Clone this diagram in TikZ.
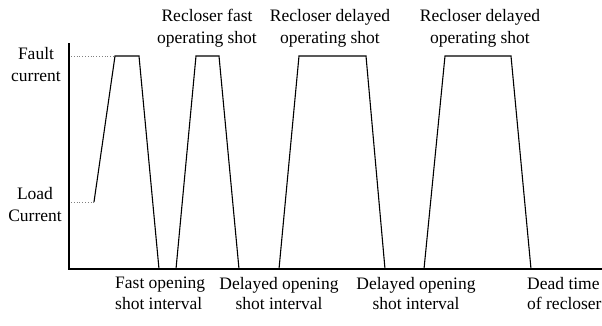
\documentclass[tikz,border=0pt]{standalone}
\usepackage{fontspec}
\setmainfont{Liberation Serif}
\begin{document}
\begin{tikzpicture}[x=1pt,y=-1pt,
  axis/.style={line width=1.8pt},
  wave/.style={line width=1.1pt},
  guide/.style={line width=0.8pt, dotted, gray},
  lbl/.style={inner sep=0pt, anchor=north, font=\fontsize{17.5}{22}\selectfont},
  lblb/.style={inner sep=0pt, anchor=north, font=\fontsize{17.5}{20.5}\selectfont}]
\useasboundingbox (0,0) rectangle (602,325);
% axes
\coordinate (ytop) at (69,43);
\coordinate (origin) at (69,269);
\coordinate (xend) at (602,269);
\draw[axis] (ytop) -- (origin) -- (xend);
% levels
\coordinate (lstart) at (71,202);
\coordinate (fstart) at (71,56);
% pulse 1
\coordinate (a0) at (94,202);
\coordinate (a1) at (115,56);
\coordinate (a2) at (139,56);
\coordinate (a3) at (159,269);
\draw[guide] (lstart) -- (a0);
\draw[guide] (fstart) -- (a1);
\draw[wave] (a0) -- (a1) -- (a2) -- (a3);
% pulse 2
\coordinate (b0) at (176,269);
\coordinate (b1) at (196,56);
\coordinate (b2) at (219,56);
\coordinate (b3) at (239,269);
\draw[wave] (b0) -- (b1) -- (b2) -- (b3);
% pulse 3
\coordinate (c0) at (279,269);
\coordinate (c1) at (299,56);
\coordinate (c2) at (366,56);
\coordinate (c3) at (385,269);
\draw[wave] (c0) -- (c1) -- (c2) -- (c3);
% pulse 4
\coordinate (d0) at (424,269);
\coordinate (d1) at (445,56);
\coordinate (d2) at (511,56);
\coordinate (d3) at (531,269);
\draw[wave] (d0) -- (d1) -- (d2) -- (d3);
% left labels
\node[lbl, align=center] (fault) at (36,47) {Fault\\current};
\node[lbl, align=center] (load) at (35,187) {Load\\Current};
% top labels
\node[lbl, align=center] (t1) at (207,9) {Recloser fast\\operating shot};
\node[lbl, align=center] (t2) at (330,9) {Recloser delayed\\operating shot};
\node[lbl, align=center] (t3) at (480,9) {Recloser delayed\\operating shot};
% bottom labels
\node[lblb, align=left, anchor=north west] (s1) at (115,277) {Fast opening\\shot interval};
\node[lblb, align=center] (s2) at (279,277) {Delayed opening\\shot interval};
\node[lblb, align=center] (s3) at (416,277) {Delayed opening\\shot interval};
\node[lblb, align=left, anchor=north west] (s4) at (527,277) {Dead time\\of recloser};
\end{tikzpicture}
\end{document}
